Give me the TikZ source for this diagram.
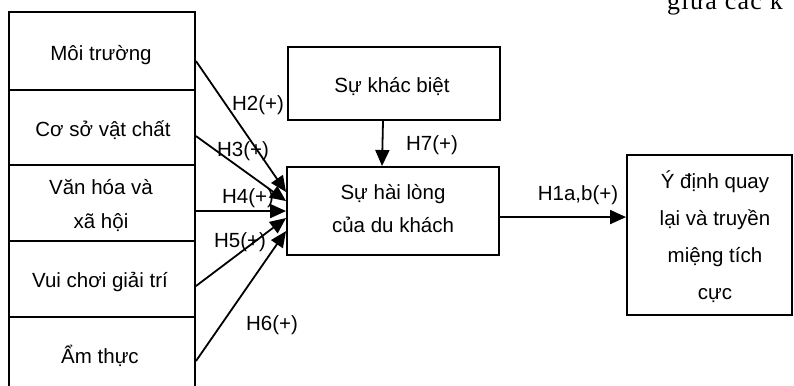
\documentclass[tikz,border=0pt]{standalone}
\usepackage{fontspec}
\setmainfont{Liberation Sans}
\newfontfamily\pageserif[LetterSpace=5]{Liberation Serif}
\usetikzlibrary{arrows.meta,calc}

\begin{document}
\begin{tikzpicture}[x=1pt,y=-1pt,
  box/.style={draw, line width=1.9pt, rectangle, inner sep=0pt},
  txt/.style={font=\fontsize{20.5}{34}\selectfont, inner sep=0pt, align=center},
  hyp/.style={font=\fontsize{20.5}{24}\selectfont, inner sep=0pt},
  arr/.style={-{Triangle[length=16pt,width=14pt]}, line width=1.8pt},
]
\clip (0,0) rectangle (794,385);

% page text running above the figure
\node[anchor=base west, inner sep=0pt, font=\pageserif\fontsize{26}{26}\selectfont] (pagetext) at (667,10) {giữa các k};

% stacked factor boxes
\node[box, minimum width=186pt, minimum height=78pt] (f1) at (102,51) {};
\node[box, minimum width=186pt, minimum height=75pt] (f2) at (102,127.5) {};
\node[box, minimum width=186pt, minimum height=76pt] (f3) at (102,203) {};
\node[box, minimum width=186pt, minimum height=76pt] (f4) at (102,279) {};
\node[box, minimum width=186pt, minimum height=78pt] (f5) at (102,356) {};

\node[txt] (t1) at (101,55) {Môi trường};
\node[txt] (t2) at (103,130) {Cơ sở vật chất};
\node[txt] (t3) at (101,205) {Văn hóa và\\xã hội};
\node[txt] (t4) at (100,282) {Vui chơi giải trí};
\node[txt] (t5) at (100,356) {Ẩm thực};

% moderator, satisfaction and outcome boxes
\node[box, minimum width=212pt, minimum height=73pt] (kb) at (394,83.5) {};
\node[txt] (kbt) at (392,87) {Sự khác biệt};

\node[box, minimum width=212pt, minimum height=88pt] (hl) at (393,211) {};
\node[txt, font=\fontsize{20.5}{33}\selectfont] (hlt) at (393,209) {Sự hài lòng\\của du khách};

\node[box, minimum width=165pt, minimum height=160pt] (rb) at (709.5,235) {};
\node[txt, font=\fontsize{20.5}{37}\selectfont] (rbt) at (715,237) {Ý định quay\\lại và truyền\\miệng tích\\cực};

% hypothesis paths
\draw[arr] ($(f1.north east)+(0,50)$) -- ($(hl.north west)+(0,26)$);
\draw[arr] ($(f2.north east)+(0,47)$) -- ($(hl.north west)+(0,35)$);
\draw[arr] ($(f3.north east)+(0,47)$) -- ($(hl.north west)+(0,45)$);
\draw[arr] ($(f4.north east)+(0,46)$) -- ($(hl.north west)+(0,52)$);
\draw[arr] ($(f5.north east)+(0,45)$) -- ($(hl.north west)+(0,65)$);
\draw[arr] ($(kb.south)+(-11,0)$) -- ($(hl.north)+(-11,0)$);
\draw[arr] ($(hl.north east)+(0,51)$) -- ($(rb.north west)+(0,63)$);

\node[hyp] (h2) at (258,105) {H2(+)};
\node[hyp] (h3) at (243,151) {H3(+)};
\node[hyp] (h4) at (248,198) {H4(+)};
\node[hyp] (h5) at (240,242) {H5(+)};
\node[hyp] (h6) at (272,325) {H6(+)};
\node[hyp] (h7) at (432,145) {H7(+)};
\node[hyp] (h1) at (578,195) {H1a,b(+)};
\end{tikzpicture}
\end{document}
